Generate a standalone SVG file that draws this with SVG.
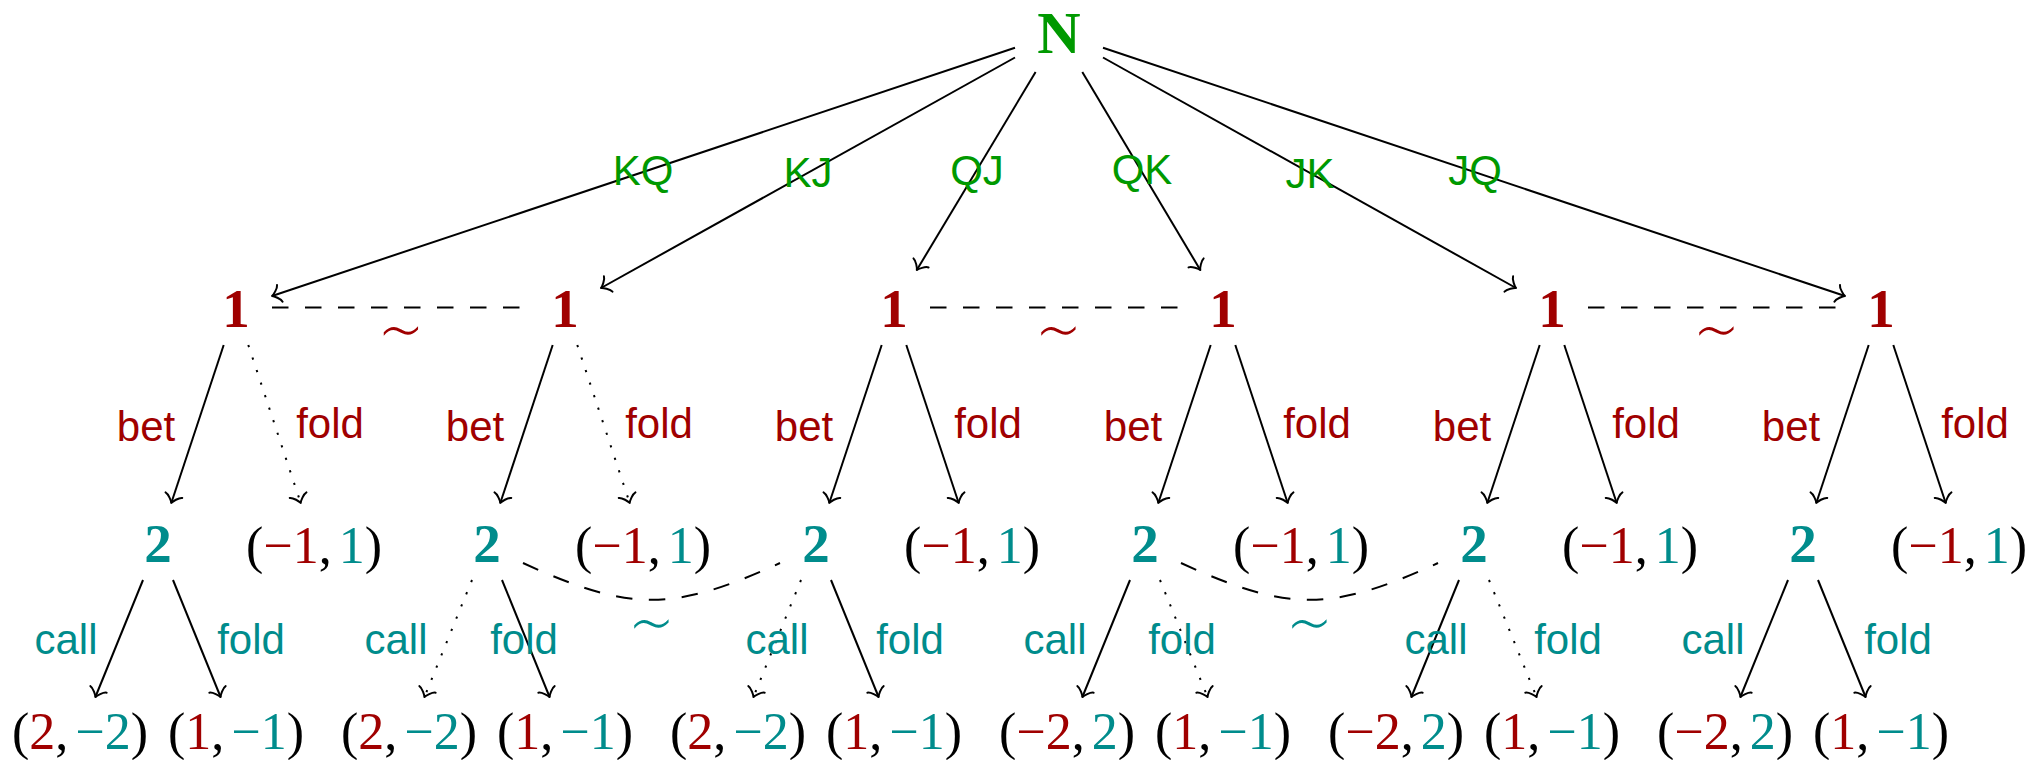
<svg xmlns="http://www.w3.org/2000/svg" width="2028" height="760" viewBox="0 0 2028 760">
<style>
.bg{fill:#fff}
.e{fill:none;stroke:#000;stroke-width:2;marker-end:url(#to)}
.dot{stroke-dasharray:2.2 11}
.dash{fill:none;stroke:#000;stroke-width:2;stroke-dasharray:16.5 16.5}
.nat{font-family:"Liberation Serif",serif;font-weight:bold;font-size:60px;fill:#009900;text-anchor:middle}
.p1{font-family:"Liberation Serif",serif;font-weight:bold;font-size:55px;fill:#A00000;text-anchor:middle}
.p2{font-family:"Liberation Serif",serif;font-weight:bold;font-size:55px;fill:#008C8C;text-anchor:middle}
.pay{font-family:"Liberation Serif",serif;font-size:52px;fill:#000;text-anchor:middle}
.r{fill:#A00000}
.t{fill:#008C8C}
.lg{font-family:"Liberation Sans",sans-serif;font-size:42px;fill:#009900;text-anchor:middle}
.lr{font-family:"Liberation Sans",sans-serif;font-size:42px;fill:#A00000;text-anchor:middle}
.lt{font-family:"Liberation Sans",sans-serif;font-size:42px;fill:#008C8C;text-anchor:middle}
.tr{font-family:"DejaVu Sans",sans-serif;font-weight:200;font-size:72px;fill:#A00000;text-anchor:middle}
.tt{font-family:"DejaVu Sans",sans-serif;font-weight:200;font-size:72px;fill:#008C8C;text-anchor:middle}
</style>
<defs>
<marker id="to" markerUnits="userSpaceOnUse" orient="auto" refX="0" refY="0" markerWidth="20" markerHeight="20" overflow="visible">
<path d="M-8.25,8.8 C-7.7,5.5 -1.65,0.55 0,0 C-1.65,-0.55 -7.7,-5.5 -8.25,-8.8" fill="none" stroke="#000" stroke-width="2" stroke-linecap="round" stroke-linejoin="round"/>
</marker>
</defs>
<rect class="bg" x="0" y="0" width="2028" height="760"/>

<g id="connectors">
<path class="e" d="M1015,47.7 L272,296"/>
<path class="e" d="M1015,57.5 L601,288"/>
<path class="e" d="M1035.6,72 L916.8,270"/>
<path class="e" d="M1082.3,72 L1200.3,270"/>
<path class="e" d="M1103,57.5 L1516,288"/>
<path class="e" d="M1103,47.7 L1845,296"/>
<text class="lg" x="643" y="185">KQ</text>
<text class="lg" x="808" y="187">KJ</text>
<text class="lg" x="977" y="185">QJ</text>
<text class="lg" x="1142" y="184">QK</text>
<text class="lg" x="1310" y="188">JK</text>
<text class="lg" x="1475" y="185">JQ</text>

<path class="e" d="M223.7,345 L171.3,503"/>
<path class="e dot" d="M248.3,345 L300.7,503"/>
<path class="e" d="M552.7,345 L500.3,503"/>
<path class="e dot" d="M577.3,345 L629.7,503"/>
<path class="e" d="M881.7,345 L829.3,503"/>
<path class="e" d="M906.3,345 L958.7,503"/>
<path class="e" d="M1210.7,345 L1158.3,503"/>
<path class="e" d="M1235.3,345 L1287.7,503"/>
<path class="e" d="M1539.7,345 L1487.3,503"/>
<path class="e" d="M1564.3,345 L1616.7,503"/>
<path class="e" d="M1868.7,345 L1816.3,503"/>
<path class="e" d="M1893.3,345 L1945.7,503"/>
<text class="lr" x="146" y="441">bet</text><text class="lr" x="330" y="438">fold</text>
<text class="lr" x="475" y="441">bet</text><text class="lr" x="659" y="438">fold</text>
<text class="lr" x="804" y="441">bet</text><text class="lr" x="988" y="438">fold</text>
<text class="lr" x="1133" y="441">bet</text><text class="lr" x="1317" y="438">fold</text>
<text class="lr" x="1462" y="441">bet</text><text class="lr" x="1646" y="438">fold</text>
<text class="lr" x="1791" y="441">bet</text><text class="lr" x="1975" y="438">fold</text>

<path class="e" d="M143,580 L95.4,697"/>
<path class="e" d="M173,580 L220.6,697"/>
<path class="e dot" d="M472,580 L424.4,697"/>
<path class="e" d="M502,580 L549.6,697"/>
<path class="e dot" d="M801,580 L753.4,697"/>
<path class="e" d="M831,580 L878.6,697"/>
<path class="e" d="M1130,580 L1082.4,697"/>
<path class="e dot" d="M1160,580 L1207.6,697"/>
<path class="e" d="M1459,580 L1411.4,697"/>
<path class="e dot" d="M1489,580 L1536.6,697"/>
<path class="e" d="M1788,580 L1740.4,697"/>
<path class="e" d="M1818,580 L1865.6,697"/>
<text class="lt" x="66" y="654">call</text><text class="lt" x="251" y="654">fold</text>
<text class="lt" x="396" y="654">call</text><text class="lt" x="524" y="654">fold</text>
<text class="lt" x="777" y="654">call</text><text class="lt" x="910" y="654">fold</text>
<text class="lt" x="1055" y="654">call</text><text class="lt" x="1182" y="654">fold</text>
<text class="lt" x="1436" y="654">call</text><text class="lt" x="1568" y="654">fold</text>
<text class="lt" x="1713" y="654">call</text><text class="lt" x="1898" y="654">fold</text>
</g>

<g id="infosets">
<path class="dash" d="M272,307.5 L529,307.5"/>
<path class="dash" d="M930,307.5 L1187,307.5"/>
<path class="dash" d="M1588,307.5 L1845,307.5"/>
<text class="tr" x="401" y="356">∼</text>
<text class="tr" x="1058.5" y="356">∼</text>
<text class="tr" x="1716.5" y="356">∼</text>
<path class="dash" d="M523,563 C630,612 673,612 780,563"/>
<path class="dash" d="M1181,563 C1288,612 1331,612 1438,563"/>
<text class="tt" x="651.5" y="649">∼</text>
<text class="tt" x="1309.5" y="649">∼</text>
</g>

<g id="node-N"><text class="nat" x="1059" y="53">N</text></g>

<g id="node-1-KQ"><text class="p1" x="236" y="327">1</text></g>
<g id="node-1-KJ"><text class="p1" x="565" y="327">1</text></g>
<g id="node-1-QJ"><text class="p1" x="894" y="327">1</text></g>
<g id="node-1-QK"><text class="p1" x="1223" y="327">1</text></g>
<g id="node-1-JK"><text class="p1" x="1552" y="327">1</text></g>
<g id="node-1-JQ"><text class="p1" x="1881" y="327">1</text></g>

<g id="node-2-KQ"><text class="p2" x="158" y="562">2</text></g>
<g id="node-2-KJ"><text class="p2" x="487" y="562">2</text></g>
<g id="node-2-QJ"><text class="p2" x="816" y="562">2</text></g>
<g id="node-2-QK"><text class="p2" x="1145" y="562">2</text></g>
<g id="node-2-JK"><text class="p2" x="1474" y="562">2</text></g>
<g id="node-2-JQ"><text class="p2" x="1803" y="562">2</text></g>

<g id="leaf-KQ-fold"><text class="pay" x="314" y="563">(<tspan class="r">−1</tspan>,<tspan class="t" dx="7">1</tspan>)</text></g>
<g id="leaf-KJ-fold"><text class="pay" x="643" y="563">(<tspan class="r">−1</tspan>,<tspan class="t" dx="7">1</tspan>)</text></g>
<g id="leaf-QJ-fold"><text class="pay" x="972" y="563">(<tspan class="r">−1</tspan>,<tspan class="t" dx="7">1</tspan>)</text></g>
<g id="leaf-QK-fold"><text class="pay" x="1301" y="563">(<tspan class="r">−1</tspan>,<tspan class="t" dx="7">1</tspan>)</text></g>
<g id="leaf-JK-fold"><text class="pay" x="1630" y="563">(<tspan class="r">−1</tspan>,<tspan class="t" dx="7">1</tspan>)</text></g>
<g id="leaf-JQ-fold"><text class="pay" x="1959" y="563">(<tspan class="r">−1</tspan>,<tspan class="t" dx="7">1</tspan>)</text></g>

<g id="leaf-KQ-call"><text class="pay" x="80" y="749">(<tspan class="r">2</tspan>,<tspan class="t" dx="7">−2</tspan>)</text></g>
<g id="leaf-KQ-fold2"><text class="pay" x="236" y="749">(<tspan class="r">1</tspan>,<tspan class="t" dx="7">−1</tspan>)</text></g>
<g id="leaf-KJ-call"><text class="pay" x="409" y="749">(<tspan class="r">2</tspan>,<tspan class="t" dx="7">−2</tspan>)</text></g>
<g id="leaf-KJ-fold2"><text class="pay" x="565" y="749">(<tspan class="r">1</tspan>,<tspan class="t" dx="7">−1</tspan>)</text></g>
<g id="leaf-QJ-call"><text class="pay" x="738" y="749">(<tspan class="r">2</tspan>,<tspan class="t" dx="7">−2</tspan>)</text></g>
<g id="leaf-QJ-fold2"><text class="pay" x="894" y="749">(<tspan class="r">1</tspan>,<tspan class="t" dx="7">−1</tspan>)</text></g>
<g id="leaf-QK-call"><text class="pay" x="1067" y="749">(<tspan class="r">−2</tspan>,<tspan class="t" dx="7">2</tspan>)</text></g>
<g id="leaf-QK-fold2"><text class="pay" x="1223" y="749">(<tspan class="r">1</tspan>,<tspan class="t" dx="7">−1</tspan>)</text></g>
<g id="leaf-JK-call"><text class="pay" x="1396" y="749">(<tspan class="r">−2</tspan>,<tspan class="t" dx="7">2</tspan>)</text></g>
<g id="leaf-JK-fold2"><text class="pay" x="1552" y="749">(<tspan class="r">1</tspan>,<tspan class="t" dx="7">−1</tspan>)</text></g>
<g id="leaf-JQ-call"><text class="pay" x="1725" y="749">(<tspan class="r">−2</tspan>,<tspan class="t" dx="7">2</tspan>)</text></g>
<g id="leaf-JQ-fold2"><text class="pay" x="1881" y="749">(<tspan class="r">1</tspan>,<tspan class="t" dx="7">−1</tspan>)</text></g>
</svg>
